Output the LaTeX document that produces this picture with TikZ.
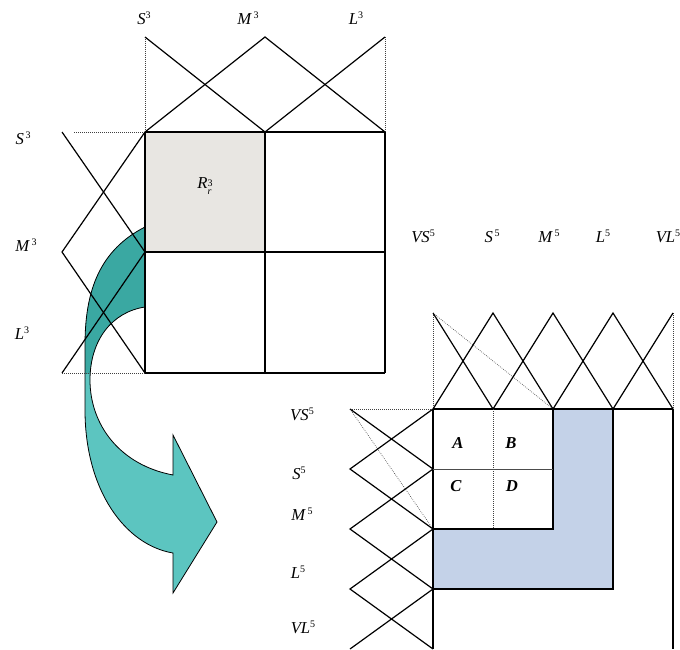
\documentclass[tikz,border=0pt]{standalone}
\usepackage{fontspec}
\setmainfont{Liberation Serif}
\definecolor{grayfill}{RGB}{232,230,226}
\definecolor{bluefill}{RGB}{196,210,232}
\definecolor{tealL}{RGB}{92,197,192}
\definecolor{tealD}{RGB}{58,168,162}
\newcommand{\lbltxt}[2]{\textit{#1}\raisebox{0.75ex}{\fontsize{7.5}{7.5}\selectfont #2}}
\begin{document}
\begin{tikzpicture}[x=0.75pt,y=-0.75pt,
  mf/.style={black,line width=0.9pt},
  gridl/.style={black,line width=0.9pt},
  guide/.style={black!75,line width=0.5pt,densely dotted},
  lbl/.style={font=\fontsize{12.5}{12.5}\selectfont,inner sep=0pt},
  cell/.style={font=\fontsize{12.5}{12.5}\selectfont\bfseries\itshape,inner sep=0pt},
  arrowline/.style={black,line width=0.6pt}]
\useasboundingbox (0,0) rectangle (680,649);

% ---------- fills ----------
\fill[grayfill] (145,132) rectangle (265,252);
\fill[bluefill] (553,409) -- (613,409) -- (613,589) -- (433,589) -- (433,529) -- (553,529) -- cycle;

% ---------- curved arrow ----------
\fill[tealL] (145,227) .. controls (100,250) and (85,290) .. (85,345) -- (85,410)
  .. controls (85,490) and (125,545) .. (173,553) -- (173,593) -- (217,522) -- (173,435) -- (173,475)
  .. controls (120,465) and (90,425) .. (90,380) .. controls (90,340) and (112,312) .. (145,307) -- cycle;
\begin{scope}
\clip (0,0) rectangle (145,373);
\fill[tealD] (145,227) .. controls (100,250) and (85,290) .. (85,345) -- (85,410)
  .. controls (85,490) and (125,545) .. (173,553) -- (173,593) -- (217,522) -- (173,435) -- (173,475)
  .. controls (120,465) and (90,425) .. (90,380) .. controls (90,340) and (112,312) .. (145,307) -- cycle;
\end{scope}
\draw[arrowline] (145,227) .. controls (100,250) and (85,290) .. (85,345) -- (85,410)
  .. controls (85,490) and (125,545) .. (173,553) -- (173,593) -- (217,522) -- (173,435) -- (173,475)
  .. controls (120,465) and (90,425) .. (90,380) .. controls (90,340) and (112,312) .. (145,307);

% ---------- top-left: 3 terms ----------
% grid
\draw[gridl] (145,132) -- (385,132);
\draw[gridl] (145,252) -- (385,252);
\draw[gridl] (145,373) -- (385,373);
\draw[gridl] (145,132) -- (145,373);
\draw[gridl] (265,132) -- (265,373);
\draw[gridl] (385,132) -- (385,373);
% top membership functions
\draw[guide] (145,37) -- (145,132);
\draw[guide] (385,37) -- (385,132);
\draw[mf] (145,37) -- (265,132);
\draw[mf] (145,132) -- (265,37) -- (385,132);
\draw[mf] (265,132) -- (385,37);
% left membership functions
\draw[guide] (74,132) -- (145,132);
\draw[guide] (62,373) -- (145,373);
\draw[mf] (62,132) -- (145,252);
\draw[mf] (145,132) -- (62,252) -- (145,373);
\draw[mf] (145,252) -- (62,373);
% labels
\node[lbl] (tS) at (144,18) {\lbltxt{S}{3}};
\node[lbl] (tM) at (248,18) {\lbltxt{M}{\,3}};
\node[lbl] (tL) at (356,18) {\lbltxt{L}{3}};
\node[lbl] (lS) at (23,138) {\lbltxt{S}{\,3}};
\node[lbl] (lM) at (26,245) {\lbltxt{M}{\,3}};
\node[lbl] (lL) at (22,333) {\lbltxt{L}{3}};
\node[lbl] (R) at (205,186) {\textit{R}\raisebox{-0.9ex}{\fontsize{7.5}{7}\selectfont\shortstack[l]{3\\\textit{r}}}};

% ---------- bottom-right: 5 terms ----------
% top membership functions
\draw[guide] (433,313) -- (433,409);
\draw[guide] (673,313) -- (673,409);
\draw[guide] (433,313) -- (553,409);
\draw[mf] (433,313) -- (493,409);
\draw[mf] (433,409) -- (493,313) -- (553,409);
\draw[mf] (493,409) -- (553,313) -- (613,409);
\draw[mf] (553,409) -- (613,313) -- (673,409);
\draw[mf] (613,409) -- (673,313);
% left membership functions
\draw[guide] (350,409) -- (433,409);
\draw[guide] (350,409) -- (433,529);
\draw[mf] (350,409) -- (433,469);
\draw[mf] (433,409) -- (350,469) -- (433,529);
\draw[mf] (433,469) -- (350,529) -- (433,589);
\draw[mf] (433,529) -- (350,589) -- (433,649);
\draw[mf] (433,589) -- (350,649);
% grid
\draw[gridl] (433,409) -- (673,409);
\draw[gridl] (433,409) -- (433,649);
\draw[gridl] (673,409) -- (673,649);
\draw[gridl] (553,409) -- (553,529) -- (433,529);
\draw[gridl] (613,409) -- (613,589) -- (433,589);
\draw[guide] (493,409) -- (493,529);
\draw[black!70,line width=0.7pt] (433,469) -- (553,469);
% labels
\node[lbl] (VSt) at (423,236) {\lbltxt{VS}{5}};
\node[lbl] (St) at (492,236) {\lbltxt{S}{\,5}};
\node[lbl] (Mt) at (549,236) {\lbltxt{M}{\,5}};
\node[lbl] (Lt) at (603,236) {\lbltxt{L}{5}};
\node[lbl] (VLt) at (668,236) {\lbltxt{VL}{5}};
\node[lbl] (VSl) at (302,414) {\lbltxt{VS}{5}};
\node[lbl] (Sl) at (299,473) {\lbltxt{S}{5}};
\node[lbl] (Ml) at (302,514) {\lbltxt{M}{\,5}};
\node[lbl] (Ll) at (298,572) {\lbltxt{L}{5}};
\node[lbl] (VLl) at (303,627) {\lbltxt{VL}{5}};
\node[cell] (A) at (458,443) {A};
\node[cell] (B) at (511,443) {B};
\node[cell] (C) at (456,486) {C};
\node[cell] (D) at (512,486) {D};
\end{tikzpicture}
\end{document}
